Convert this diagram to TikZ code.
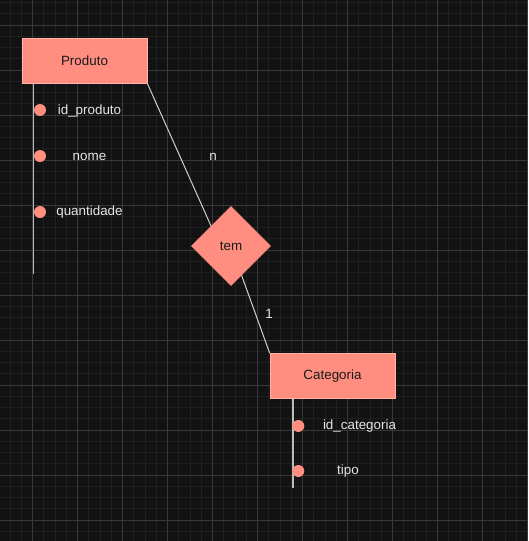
\documentclass[tikz,border=0pt]{standalone}
\usepackage{fontspec}
\setmainfont{Liberation Sans}
\usetikzlibrary{shapes.geometric,calc}

\definecolor{bg}{HTML}{121212}
\definecolor{gridminor}{HTML}{1F1F1F}
\definecolor{gridmajor}{HTML}{383838}
\definecolor{salmon}{HTML}{FF8E80}
\definecolor{salmonedge}{HTML}{FFB3A8}
\definecolor{inktext}{HTML}{1A1A1A}
\definecolor{lighttext}{HTML}{E6E6E6}
\definecolor{linkline}{HTML}{D0D0D0}
\definecolor{attrstem}{HTML}{BBBBBB}

\tikzset{
  entity/.style={rectangle, fill=salmon, draw=salmonedge, line width=0.6pt,
    minimum width=125pt, minimum height=45pt, inner sep=0pt,
    text=inktext, font=\fontsize{13.4}{16}\selectfont},
  relation/.style={diamond, aspect=1, fill=salmon, draw=salmon, line width=0.6pt,
    minimum width=79pt, minimum height=79pt, inner sep=0pt,
    text=inktext, font=\fontsize{13.4}{16}\selectfont},
  attrdot/.style={circle, fill=salmon, draw=none, minimum size=12pt, inner sep=0pt},
  attrlabel/.style={text=lighttext, inner sep=0pt, font=\fontsize{13.4}{16}\selectfont},
  cardlabel/.style={text=lighttext, inner sep=0pt, font=\fontsize{13.4}{16}\selectfont},
  link/.style={draw=linkline, line width=1pt},
  stem/.style={draw=attrstem, line width=1.6pt},
}

\begin{document}
\begin{tikzpicture}[x=1pt, y=-1pt]
  % canvas and grid
  \useasboundingbox (0,0) rectangle (528,541);
  \fill[bg] (0,0) rectangle (528,541);
  \begin{scope}
    \clip (0,0) rectangle (528,541);
    \foreach \i in {0,...,47} {
      \draw[gridminor, line width=0.8pt] ({-1.25+11.25*\i},0) -- ({-1.25+11.25*\i},541);
    }
    \foreach \i in {0,...,48} {
      \draw[gridminor, line width=0.8pt] (0,{2.5+11.25*\i}) -- (528,{2.5+11.25*\i});
    }
    \foreach \i in {0,...,11} {
      \draw[gridmajor, line width=1pt] ({32.5+45*\i},0) -- ({32.5+45*\i},541);
      \draw[gridmajor, line width=1pt] (0,{25+45*\i}) -- (528,{25+45*\i});
    }
  \end{scope}

  % entities and relationship
  \node[entity] (prod) at (84.5,60.5) {Produto};
  \node[entity] (cat) at (332.5,376) {Categoria};
  \node[relation] (tem) at (231,246) {tem};

  % connectors
  \draw[link] (prod.south east) -- (tem.north west);
  \draw[link] (tem) -- (cat.north west);

  \node[cardlabel] (cardn) at (213,156.5) {n};
  \node[cardlabel] (card1) at (269,314) {1};

  % attributes of Produto
  \coordinate (pstemtop) at (33.5,83);
  \coordinate (pstemend) at (33.5,274);
  \draw[stem] (pstemtop) -- (pstemend);
  \node[attrdot] (pd1) at (40,110) {};
  \node[attrdot] (pd2) at (40,156) {};
  \node[attrdot] (pd3) at (40,212) {};
  \node[attrlabel] (pl1) at (89.5,111.5) {id\_produto};
  \node[attrlabel] (pl2) at (89.5,156.5) {nome};
  \node[attrlabel] (pl3) at (89.5,212.5) {quantidade};

  % attributes of Categoria
  \coordinate (cstemtop) at (292.7,399);
  \coordinate (cstemend) at (292.7,488);
  \draw[stem] (cstemtop) -- (cstemend);
  \node[attrdot] (cd1) at (298.3,426) {};
  \node[attrdot] (cd2) at (298.3,471) {};
  \node[attrlabel] (cl1) at (359.5,426.5) {id\_categoria};
  \node[attrlabel] (cl2) at (348,471) {tipo};
\end{tikzpicture}
\end{document}
